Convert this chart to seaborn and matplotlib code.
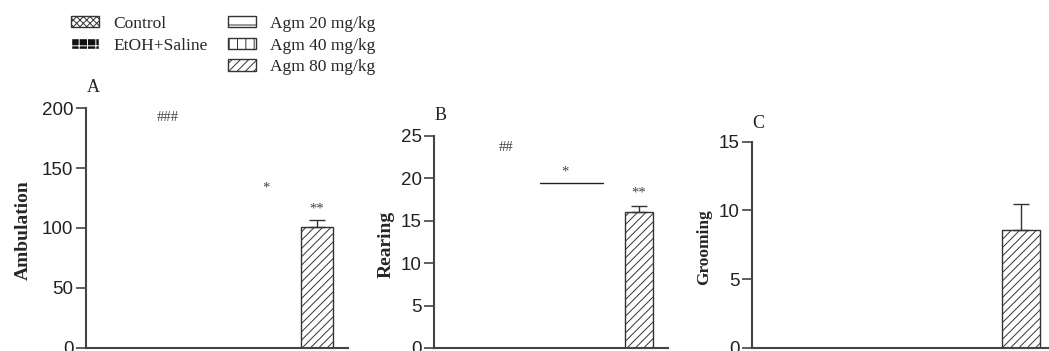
import numpy as np
import pandas as pd
import matplotlib
matplotlib.use("Agg")
import matplotlib.pyplot as plt
import seaborn as sns
from matplotlib.patches import Patch

# groups in plotting order
groups = ["Control", "EtOH+Saline", "Agm 20 mg/kg", "Agm 40 mg/kg", "Agm 80 mg/kg"]
hatches = ["xxxxx", "++", "-", "||", "////"]

# only the Agm 80 mg/kg bar is visible in the source figure
ambulation = [np.nan, np.nan, np.nan, np.nan, 101.0]
ambulation_sem = [np.nan, np.nan, np.nan, np.nan, 6.0]
rearing = [np.nan, np.nan, np.nan, np.nan, 16.0]
rearing_sem = [np.nan, np.nan, np.nan, np.nan, 0.8]
grooming = [np.nan, np.nan, np.nan, np.nan, 8.6]
grooming_sem = [np.nan, np.nan, np.nan, np.nan, 1.9]

# significance marks: (text, x in group index, y)
marks_a = [("###", 1.2, 192), ("*", 3.05, 133), ("**", 4.0, 116)]
marks_b = [("##", 1.15, 23.6), ("*", 2.42, 20.8), ("**", 4.0, 18.3)]
line_b = (1.88, 3.23, 19.5)

sns.set_style("ticks")
plt.rcParams["font.family"] = ["Liberation Sans", "DejaVu Sans"]
plt.rcParams["hatch.linewidth"] = 0.7

W, H = 1049, 351
fig = plt.figure(figsize=(W / 100, H / 100), dpi=100)


def box(left, right, top, bottom):
    return [left / W, 1 - bottom / H, (right - left) / W, (bottom - top) / H]


ax_a = fig.add_axes(box(86, 348, 108.3, 347.7))
ax_b = fig.add_axes(box(434, 668, 136, 348))
ax_c = fig.add_axes(box(752, 1058, 141.7, 347.7))

panels = [
    (ax_a, ambulation, ambulation_sem, "Ambulation", 14, 200, 50, (-0.33, 4.58), -0.205, "A", 93, 88),
    (ax_b, rearing, rearing_sem, "Rearing", 14, 25, 5, (-0.39, 4.62), -0.17, "B", 441, 116),
    (ax_c, grooming, grooming_sem, "Grooming", 12.5, 15, 5, (-0.25, 4.58), -0.13, "C", 758, 123),
]

edge = "#333333"
for ax, vals, sem, label, lab_size, ymax, step, xlim, lab_x, letter, lx, ly in panels:
    df = pd.DataFrame({"group": groups, "value": vals})
    sns.barplot(data=df, x="group", y="value", order=groups, errorbar=None,
                width=0.6, color="white", edgecolor=edge, linewidth=1.0, ax=ax)
    for p in ax.patches:
        idx = int(round(p.get_x() + p.get_width() / 2))
        p.set_hatch(hatches[idx])
        p.set_facecolor("white")
        p.set_edgecolor(edge)
    xs = np.arange(len(groups))
    ax.errorbar(xs, vals, yerr=[np.zeros(len(groups)), sem], fmt="none",
                ecolor=edge, elinewidth=1.0, capsize=6, capthick=1.0)
    ax.set_xlim(*xlim)
    ax.set_ylim(0, ymax)
    ax.set_yticks(np.arange(0, ymax + 1, step))
    ax.set_xticks([])
    ax.set_xlabel("")
    ax.set_ylabel(label, fontsize=lab_size, fontweight="bold", family="Liberation Serif")
    ax.yaxis.set_label_coords(lab_x, 0.49)
    ax.tick_params(axis="y", labelsize=13.5, length=7, width=1.2, color="#444444",
                   labelcolor="#222222", pad=2)
    sns.despine(ax=ax)
    for s in ["left", "bottom"]:
        ax.spines[s].set_color("#444444")
        ax.spines[s].set_linewidth(1.5)
    ax.patch.set_alpha(0)
    fig.text(lx / W, 1 - ly / H, letter, ha="center", va="center",
             fontsize=13, family="Liberation Serif", color="#222222")

for ax, marks in [(ax_a, marks_a), (ax_b, marks_b)]:
    for txt, x, y in marks:
        ax.text(x, y, txt, ha="center", va="center", fontsize=10.5,
                family="Liberation Serif", color="#444444")
ax_b.plot([line_b[0], line_b[1]], [line_b[2], line_b[2]], color="#222222", lw=1.0)

# legend, first column padded with a blank entry so it splits 2 / 3
handles = [Patch(facecolor="white", edgecolor=edge, hatch=hatches[0], label=groups[0]),
           Patch(facecolor="#111111", edgecolor="white", hatch=hatches[1], label=groups[1]),
           Patch(facecolor="none", edgecolor="none", label=" "),
           Patch(facecolor="white", edgecolor=edge, hatch=hatches[2], label=groups[2]),
           Patch(facecolor="white", edgecolor=edge, hatch=hatches[3], label=groups[3]),
           Patch(facecolor="white", edgecolor=edge, hatch=hatches[4], label=groups[4])]
fig.legend(handles=handles, ncol=2, loc="upper left", bbox_to_anchor=(71 / W, 1 - 16 / H),
           frameon=False, borderpad=0, borderaxespad=0, handlelength=1.6,
           handleheight=0.6, handletextpad=0.85, columnspacing=1.15, labelspacing=0.32,
           prop={"family": "Liberation Serif", "size": 12.5})

fig.savefig("out.png", dpi=100)
